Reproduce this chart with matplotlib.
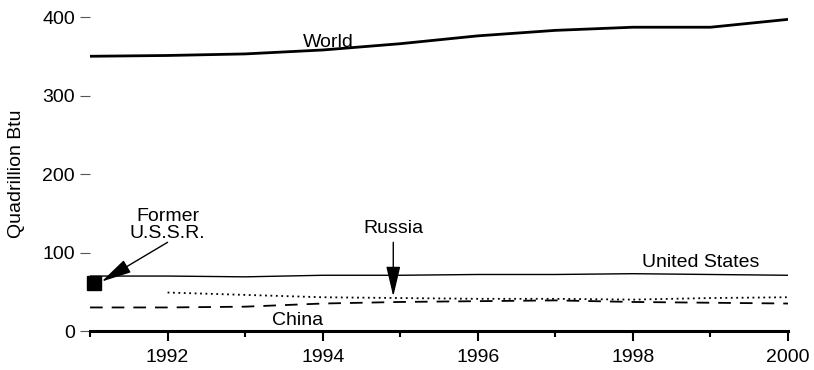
import matplotlib
matplotlib.use("Agg")
import matplotlib.pyplot as plt
import matplotlib.transforms as mtransforms
from matplotlib.ticker import MultipleLocator

plt.rcParams['font.family'] = ['Liberation Sans', 'DejaVu Sans']

years = [1991, 1992, 1993, 1994, 1995, 1996, 1997, 1998, 1999, 2000]
world = [350, 351, 353, 358, 366, 376, 383, 387, 387, 397]
united_states = [70, 70, 69, 71, 71, 72, 72, 73, 72, 71]
russia_years = [1992, 1993, 1994, 1995, 1996, 1997, 1998, 1999, 2000]
russia = [49, 46, 43, 42, 41, 41, 40, 42, 43]
china = [30, 30, 31, 35, 37, 38, 39, 37, 36, 35]
ussr_year = [1991]
ussr = [61]

FS = 14

fig = plt.figure(figsize=(8.14, 3.70), dpi=100)
ax = fig.add_axes([0.1106, 0.1054, 0.8575, 0.8486])

ax.plot(years, world, color='black', lw=2.0)
ax.plot(years, united_states, color='black', lw=1.0)
ax.plot(russia_years, russia, color='black', lw=1.3, ls=(0, (1, 2)))
ax.plot(years, china, color='black', lw=1.3, ls=(0, (7, 5)))
shift = mtransforms.offset_copy(ax.transData, fig=fig, x=4, y=0, units='dots')
ax.plot(ussr_year, ussr, marker='s', color='black', ms=10, ls='none', clip_on=False, transform=shift)

ax.set_xlim(1991, 2000)
ax.set_ylim(0, 400)
ax.xaxis.set_minor_locator(MultipleLocator(1))
ax.set_xticks([1992, 1994, 1996, 1998, 2000])
ax.set_yticks([0, 100, 200, 300, 400])
for s in ['top', 'right', 'left']:
    ax.spines[s].set_visible(False)
ax.spines['bottom'].set_linewidth(2.2)
ax.tick_params(axis='x', which='major', direction='out', length=7, width=1.5, labelsize=FS, pad=6)
ax.tick_params(axis='x', which='minor', direction='out', length=4, width=1.5)
ax.tick_params(axis='y', direction='out', length=7, width=0.8, labelsize=FS, pad=4, color='#555555')
ax.set_ylabel('Quadrillion Btu', fontsize=FS, labelpad=12)

arrow = dict(arrowstyle='-|>,head_length=0.85,head_width=0.2', color='black', lw=1,
             mutation_scale=22, shrinkA=0, shrinkB=0)
ax.text(1994.07, 368, 'World', fontsize=FS, ha='center', va='center')
ax.text(1992.0, 135, 'Former\nU.S.S.R.', fontsize=FS, ha='center', va='center', linespacing=1.0)
ax.annotate('', xy=(1991.15, 63), xytext=(1992.0, 113), arrowprops=arrow)
ax.text(1994.91, 131, 'Russia', fontsize=FS, ha='center', va='center')
ax.annotate('', xy=(1994.91, 44), xytext=(1994.91, 113), arrowprops=arrow)
ax.text(1998.87, 87, 'United States', fontsize=FS, ha='center', va='center')
ax.text(1993.67, 14, 'China', fontsize=FS, ha='center', va='center')

fig.savefig('out.png', dpi=100)
